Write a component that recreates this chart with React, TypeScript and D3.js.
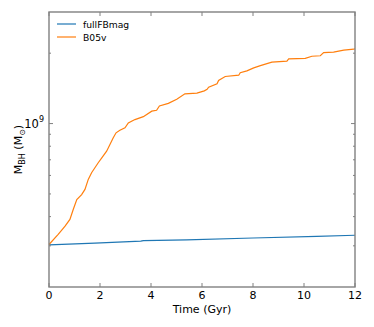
import React from "react";
import { scaleLinear, scaleLog, line } from "d3";

// chart values
const xTicks = [0, 2, 4, 6, 8, 10, 12];

const fullTime = [0, 1.8, 3.6, 3.7, 5.4, 8.0, 10.5, 12];
const fullMass = [3.03e8, 3.08e8, 3.14e8, 3.16e8, 3.18e8, 3.24e8, 3.29e8, 3.33e8];

const b05Time = [
  0, 0.36, 0.63, 0.82, 0.95, 1.09, 1.28, 1.41, 1.54, 1.67, 1.8, 1.93, 2.07, 2.26, 2.39, 2.52,
  2.63, 2.78, 2.98, 3.11, 3.37, 3.7, 4.03, 4.22, 4.33, 4.68, 5.01, 5.33, 5.8, 6.09, 6.2, 6.26,
  6.59, 6.65, 6.91, 7.44, 7.5, 7.76, 8.03, 8.29, 8.74, 9.33, 9.4, 10.05, 10.31, 10.64, 10.77,
  11.16, 11.56, 11.95, 12,
];
const b05Mass = [
  3.04e8, 3.36e8, 3.64e8, 3.89e8, 4.29e8, 4.73e8, 4.97e8, 5.23e8, 5.77e8, 6.16e8, 6.47e8,
  6.8e8, 7.13e8, 7.62e8, 8.13e8, 8.69e8, 9.13e8, 9.36e8, 9.59e8, 1.006e9, 1.04e9, 1.07e9,
  1.13e9, 1.14e9, 1.19e9, 1.22e9, 1.27e9, 1.34e9, 1.35e9, 1.38e9, 1.4e9, 1.43e9, 1.48e9,
  1.53e9, 1.59e9, 1.61e9, 1.65e9, 1.68e9, 1.73e9, 1.77e9, 1.83e9, 1.85e9, 1.89e9, 1.9e9,
  1.94e9, 1.95e9, 2.01e9, 2.02e9, 2.06e9, 2.08e9, 2.09e9,
];

const seriesNames = ["fullFBmag", "B05v"];
const seriesColors = ["#1f77b4", "#ff7f0e"];

const W = 374;
const H = 327;
const margin = { top: 12, right: 19, bottom: 40, left: 49 };

export default function App() {
  const x = scaleLinear().domain([0, 12]).range([margin.left, W - margin.right]);
  const y = scaleLog().domain([2e8, 3e9]).range([H - margin.bottom, margin.top]);

  const makePath = (ts: number[], ms: number[]) =>
    line<number>()
      .x((d) => x(d))
      .y((d, i) => y(ms[i]))(ts) || "";

  const yTicks = y.ticks().filter((v) => v > 2e8 && v < 3e9);
  const left = margin.left;
  const right = W - margin.right;
  const top = margin.top;
  const bottom = H - margin.bottom;
  const axisColor = "#808080";
  const font = "DejaVu Sans";

  return (
    <svg
      width={W}
      height={H}
      style={{ position: "absolute", left: 0, top: 0, fontFamily: font }}
    >
      <rect x={0} y={0} width={W} height={H} fill="white" />

      {/* data lines */}
      <path d={makePath(fullTime, fullMass)} fill="none" stroke={seriesColors[0]} strokeWidth={1.2} />
      <path d={makePath(b05Time, b05Mass)} fill="none" stroke={seriesColors[1]} strokeWidth={1.2} />

      {/* x ticks, inward on bottom and top */}
      {xTicks.map((t) => (
        <g key={"x" + t}>
          <line x1={x(t)} x2={x(t)} y1={bottom} y2={bottom - 4} stroke={axisColor} strokeWidth={1} />
          <line x1={x(t)} x2={x(t)} y1={top} y2={top + 4} stroke={axisColor} strokeWidth={1} />
          <text x={x(t)} y={bottom + 8} textAnchor="middle" dominantBaseline="central" fontSize={11}>
            {t}
          </text>
        </g>
      ))}

      {/* y ticks (log) */}
      {yTicks.map((v) => {
        const major = v === 1e9;
        const len = major ? 4 : 2;
        return (
          <g key={"y" + v}>
            <line x1={left} x2={left + len} y1={y(v)} y2={y(v)} stroke={axisColor} strokeWidth={1} />
            <line x1={right} x2={right - len} y1={y(v)} y2={y(v)} stroke={axisColor} strokeWidth={1} />
          </g>
        );
      })}
      <text x={44} y={y(1e9) + 4} textAnchor="end" fontSize={11.5}>
        10<tspan dy={-6} fontSize={8}>9</tspan>
      </text>

      {/* frame */}
      <rect x={left} y={top} width={right - left} height={bottom - top} fill="none" stroke={axisColor} strokeWidth={1.4} />

      {/* axis labels */}
      <text x={(left + right) / 2} y={309} textAnchor="middle" dominantBaseline="central" fontSize={11}>
        Time (Gyr)
      </text>
      <text transform={`translate(22,${(top + bottom) / 2}) rotate(-90)`} textAnchor="middle" fontSize={11}>
        M<tspan dy={3} fontSize={8}>BH</tspan>
        <tspan dy={-3}> (M</tspan>
        <tspan dy={3} fontSize={8}>⊙</tspan>
        <tspan dy={-3}>)</tspan>
      </text>

      {/* legend */}
      {seriesNames.map((name, i) => (
        <g key={name}>
          <line x1={57} x2={76} y1={24 + i * 13} y2={24 + i * 13} stroke={seriesColors[i]} strokeWidth={1.2} />
          <text x={83} y={24 + i * 13} dominantBaseline="central" fontSize={9.2}>
            {name}
          </text>
        </g>
      ))}
    </svg>
  );
}
